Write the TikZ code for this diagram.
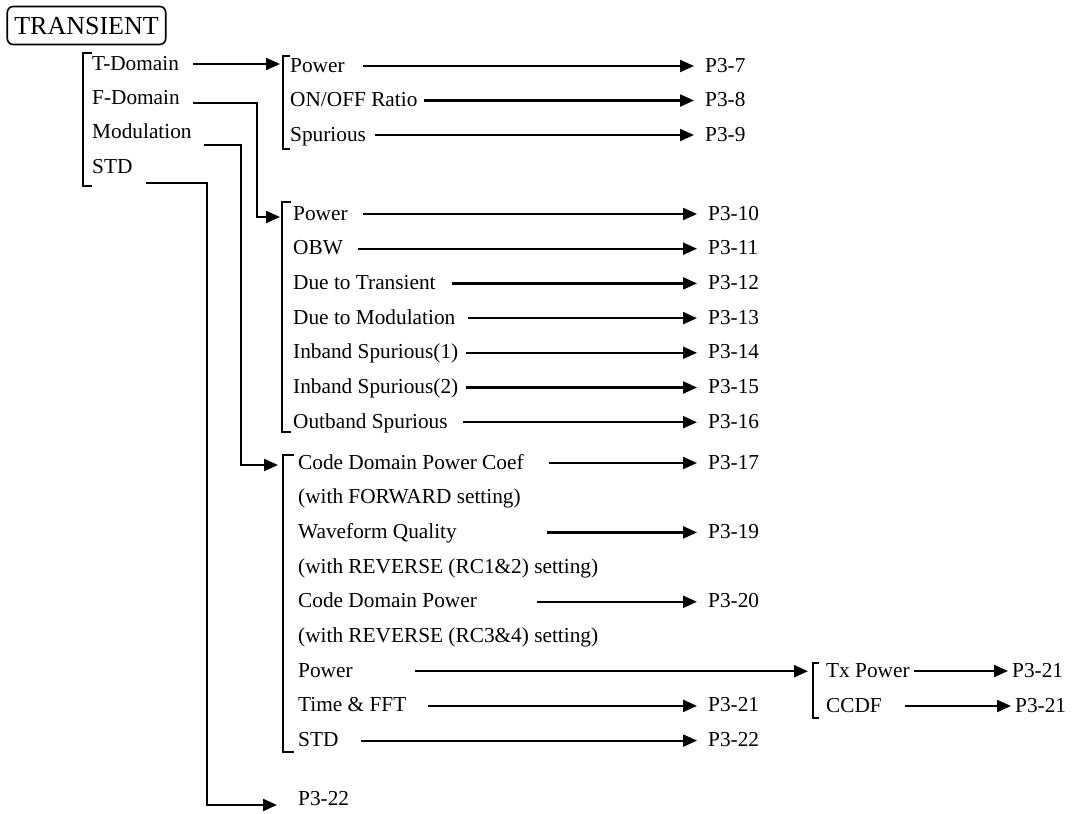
\documentclass[tikz,border=0pt]{standalone}
\usepackage{fontspec}
\setmainfont{Liberation Serif}
\usetikzlibrary{arrows.meta,positioning}
\tikzset{
  >={Triangle[length=14pt,width=12pt]},
  item/.style={anchor=base west,inner sep=0pt,text height=14pt,text depth=2pt,
               font=\fontsize{21.3}{25}\selectfont},
  page/.style={item},
  flow/.style={->,line width=2.2pt},
  link/.style={line width=2.2pt},
  bracket/.style={line width=2.2pt},
  rootBox/.style={draw,line width=1.6pt,rounded corners=6pt,
                  inner xsep=7pt,inner ysep=10pt,text height=18pt,text depth=0pt,
                  font=\fontsize{26}{30}\selectfont},
}
\begin{document}
\begin{tikzpicture}[x=1pt,y=-1pt]
\useasboundingbox (0,0) rectangle (1072,814);

\node[rootBox] (root) at (86.5,25.5) {TRANSIENT};

% top level menu
\node[item] (tdom) at (92,70)  {T-Domain};
\node[item] (fdom) at (92,104) {F-Domain};
\node[item] (modu) at (92,138) {Modulation};
\node[item] (stdm) at (92,173) {STD};

% T-Domain items
\node[item] (tPow)  at (290,72)    {Power};
\node[item] (tRat)  at (290,106.5) {ON/OFF Ratio};
\node[item] (tSpur) at (290,141)   {Spurious};
\node[page] (p37) at (705,72)    {P3-7};
\node[page] (p38) at (705,106.5) {P3-8};
\node[page] (p39) at (705,141)   {P3-9};

% F-Domain items
\node[item] (fPow) at (293,220)   {Power};
\node[item] (fObw) at (293,254.7) {OBW};
\node[item] (fTra) at (293,289.4) {Due to Transient};
\node[item] (fMod) at (293,324.1) {Due to Modulation};
\node[item] (fIn1) at (293,358.8) {Inband Spurious(1)};
\node[item] (fIn2) at (293,393.5) {Inband Spurious(2)};
\node[item] (fOut) at (293,428.2) {Outband Spurious};
\node[page] (p310) at (708,220)   {P3-10};
\node[page] (p311) at (708,254.7) {P3-11};
\node[page] (p312) at (708,289.4) {P3-12};
\node[page] (p313) at (708,324.1) {P3-13};
\node[page] (p314) at (708,358.8) {P3-14};
\node[page] (p315) at (708,393.5) {P3-15};
\node[page] (p316) at (708,428.2) {P3-16};

% Modulation items
\node[item] (mCoef) at (298,469)   {Code Domain Power Coef};
\node[item] (mFwd)  at (298,503.7) {(with FORWARD setting)};
\node[item] (mWave) at (298,538.4) {Waveform Quality};
\node[item] (mRc12) at (298,573.1) {(with REVERSE (RC1\&2) setting)};
\node[item] (mCdp)  at (298,607.8) {Code Domain Power};
\node[item] (mRc34) at (298,642.5) {(with REVERSE (RC3\&4) setting)};
\node[item] (mPow)  at (298,677.2) {Power};
\node[item] (mFft)  at (298,711.9) {Time \& FFT};
\node[item] (mStd)  at (298,746.6) {STD};
\node[page] (p317) at (708,469)   {P3-17};
\node[page] (p319) at (708,538.4) {P3-19};
\node[page] (p320) at (708,607.8) {P3-20};
\node[page] (p321) at (708,711.9) {P3-21};
\node[page] (p322) at (708,746.6) {P3-22};

% Power sub menu
\node[item] (rTx)   at (826,677) {Tx Power};
\node[item] (rCcdf) at (826,712) {CCDF};
\node[page] (pTx)   at (1012,677) {P3-21};
\node[page] (pCcdf) at (1015,712) {P3-21};

\node[page] (pBot) at (298,805) {P3-22};

% brackets
\coordinate (brMain) at (83,53);
\coordinate (brT)    at (283,56);
\coordinate (brF)    at (282,202);
\coordinate (brM)    at (283,455);
\coordinate (brR)    at (813,663);
\foreach \brk/\len/\tk in {brMain/133/9, brT/93/7, brF/230/9, brM/297/11, brR/55/6}
  \draw[bracket] ([xshift=\tk pt]\brk) -- (\brk) -- ++(0,\len) -- ++(\tk,0);

% knees of the long connectors
\coordinate (kneeF) at (257,217);
\coordinate (kneeM) at (241,465);
\coordinate (kneeS) at (207,805);

\draw[flow] ([xshift=14pt]tdom.east) -- ([xshift=-3pt]tdom.east -| brT);
\draw[flow] ([xshift=13pt,yshift=-5pt]fdom.east) -| (kneeF) -- ([xshift=-2pt]kneeF -| brF);
\draw[flow] ([xshift=12pt,yshift=-13pt]modu.east) -| (kneeM) -- ([xshift=-5pt]kneeM -| brM);
\draw[flow] ([xshift=13pt,yshift=-16pt]stdm.east) -| (kneeS) -- ([xshift=-21pt]kneeS -| pBot.west);
\draw[flow] ([xshift=62pt]mPow.east) -- ([xshift=-5pt]mPow.east -| brR);

% item -> page arrows
\foreach \src/\dst/\gap in {tPow/p37/18, tRat/p38/6, tSpur/p39/9,
    fPow/p310/15, fObw/p311/15, fTra/p312/16, fMod/p313/12,
    fIn1/p314/8, fIn2/p315/8, fOut/p316/15,
    mCoef/p317/25, mWave/p319/90, mCdp/p320/60, mFft/p321/21, mStd/p322/22}
  \draw[flow] ([xshift=\gap pt]\src.east) -- ([xshift=-11pt]\dst.west);
\draw[flow] ([xshift=4pt]rTx.east) -- ([xshift=-4pt]pTx.west);
\draw[flow] ([xshift=23pt]rCcdf.east) -- ([xshift=-4pt]pCcdf.west);

\end{tikzpicture}
\end{document}
